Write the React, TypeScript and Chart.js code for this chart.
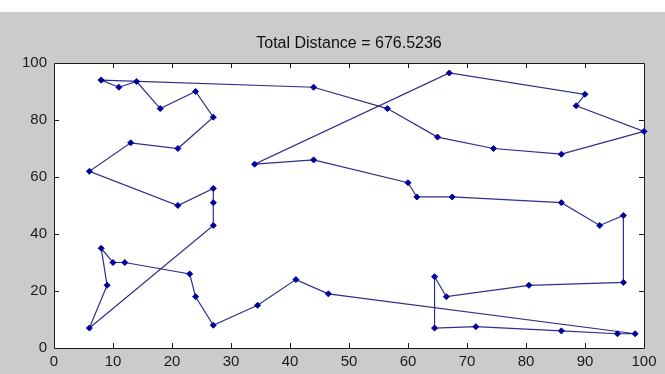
import { useEffect, useRef } from "react";
import { Chart, registerables } from "chart.js";

Chart.register(...registerables);

// Tour order (city coordinates)
const routeX = [8, 11, 14, 18, 24, 27, 21, 13, 6, 21, 27, 27, 27, 6, 9, 8, 10, 12, 23, 24, 27, 34.5, 41, 46.5, 98.5, 95.5, 86, 71.5, 64.5, 64.5, 66.5, 80.5, 96.5, 96.5, 92.5, 86, 67.5, 61.5, 60, 44, 34, 67, 90, 88.5, 100, 86, 74.5, 65, 56.5, 44];
const routeY = [94, 91.5, 93.5, 84, 90, 81, 70, 72, 62, 50, 56, 51, 43, 7, 22, 35, 30, 30, 26, 18, 8, 15, 24, 19, 5, 5, 6, 7.5, 7, 25, 18, 22, 23, 46.5, 43, 51, 53, 53, 58, 66, 64.5, 96.5, 89, 85, 76, 68, 70, 74, 84, 91.5];

const xTicks = [0, 10, 20, 30, 40, 50, 60, 70, 80, 90, 100];
const yTicks = [0, 20, 40, 60, 80, 100];
const titleText = "Total Distance = 676.5236";

const FONT = "'Liberation Sans', Arial, Helvetica, sans-serif";

const framePlugin = {
  id: "matlabFrame",
  beforeDraw(chart: any) {
    const { ctx, chartArea, width, height } = chart;
    ctx.save();
    ctx.fillStyle = "#cbcbcb";
    ctx.fillRect(0, 0, width, height);
    ctx.fillStyle = "#ffffff";
    ctx.fillRect(0, 0, width, 12);
    ctx.fillRect(chartArea.left, chartArea.top, chartArea.right - chartArea.left, chartArea.bottom - chartArea.top);
    ctx.restore();
  },
  beforeDatasetsDraw(chart: any) {
    const { ctx, chartArea, scales } = chart;
    const { left, right, top, bottom } = chartArea;
    ctx.save();
    ctx.strokeStyle = "#1a1a1a";
    ctx.lineWidth = 1;
    ctx.beginPath();
    ctx.rect(Math.round(left) + 0.5, Math.round(top) + 0.5, Math.round(right - left), Math.round(bottom - top));
    ctx.stroke();
    const tl = 5;
    ctx.beginPath();
    xTicks.slice(1, -1).forEach((v) => {
      const px = Math.round(scales.x.getPixelForValue(v)) + 0.5;
      ctx.moveTo(px, bottom);
      ctx.lineTo(px, bottom - tl);
      ctx.moveTo(px, top);
      ctx.lineTo(px, top + tl);
    });
    yTicks.slice(1, -1).forEach((v) => {
      const py = Math.round(scales.y.getPixelForValue(v)) + 0.5;
      ctx.moveTo(left, py);
      ctx.lineTo(left + tl, py);
      ctx.moveTo(right, py);
      ctx.lineTo(right - tl, py);
    });
    ctx.stroke();
    ctx.restore();
  },
  afterDraw(chart: any) {
    const { ctx, chartArea } = chart;
    ctx.save();
    ctx.fillStyle = "#111111";
    ctx.font = `16px ${FONT}`;
    ctx.textAlign = "center";
    ctx.textBaseline = "alphabetic";
    ctx.fillText(titleText, (chartArea.left + chartArea.right) / 2, 48);
    ctx.restore();
  },
};

export default function App() {
  const ref = useRef<HTMLCanvasElement | null>(null);

  useEffect(() => {
    if (!ref.current) return;
    const xs = [...routeX, routeX[0]];
    const ys = [...routeY, routeY[0]];
    const pts = xs.map((x, i) => ({ x, y: ys[i] }));
    const chart = new Chart(ref.current, {
      type: "scatter",
      data: {
        datasets: [
          {
            data: pts,
            showLine: true,
            borderColor: "#2e2e8a",
            borderWidth: 1.2,
            pointStyle: "rectRot",
            pointRadius: 3,
            pointBackgroundColor: "#00009c",
            pointBorderColor: "#00009c",
            pointBorderWidth: 1,
            clip: false as any,
          },
        ],
      },
      options: {
        animation: false,
        responsive: false,
        devicePixelRatio: 1,
        layout: { padding: { top: 63, left: 0, right: 21, bottom: 0 } },
        plugins: {
          legend: { display: false },
          tooltip: { enabled: false },
          title: { display: false },
        },
        scales: {
          x: {
            type: "linear",
            min: 0,
            max: 100,
            grid: { display: false, drawTicks: false },
            border: { display: false },
            afterBuildTicks: (s: any) => {
              s.ticks = xTicks.map((v) => ({ value: v }));
            },
            afterFit: (s: any) => {
              s.height = 26;
            },
            ticks: {
              padding: 5,
              color: "#1a1a1a",
              font: { family: FONT, size: 15 },
              maxRotation: 0,
              autoSkip: false,
            },
          },
          y: {
            type: "linear",
            min: 0,
            max: 100,
            grid: { display: false, drawTicks: false },
            border: { display: false },
            afterBuildTicks: (s: any) => {
              s.ticks = yTicks.map((v) => ({ value: v }));
            },
            afterFit: (s: any) => {
              s.width = 54;
            },
            ticks: {
              padding: 7,
              color: "#1a1a1a",
              font: { family: FONT, size: 15 },
              autoSkip: false,
            },
          },
        },
      },
      plugins: [framePlugin],
    });
    return () => chart.destroy();
  }, []);

  return (
    <div style={{ position: "fixed", left: 0, top: 0, width: 665, height: 374, background: "#cbcbcb" }}>
      <canvas ref={ref} width={665} height={374} style={{ display: "block" }} />
    </div>
  );
}
